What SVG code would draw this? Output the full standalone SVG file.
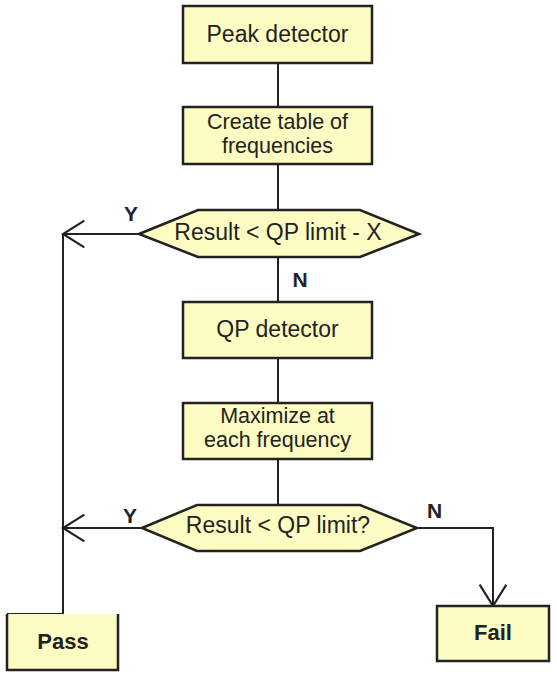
<svg xmlns="http://www.w3.org/2000/svg" width="557" height="674" viewBox="0 0 557 674">
<defs>
<style>
.box{fill:#fdfcc2;stroke:#222;stroke-width:2.5}
.fill{fill:#fdfcc2;stroke:none}
.edge{fill:none;stroke:#222;stroke-width:2.5}
.line{fill:none;stroke:#222;stroke-width:2}
.t{font-family:"Liberation Sans",Arial,sans-serif;font-size:23px;fill:#222;text-anchor:middle}
.t2{font-family:"Liberation Sans",Arial,sans-serif;font-size:21.5px;fill:#222;text-anchor:middle}
.b{font-family:"Liberation Sans",Arial,sans-serif;font-size:22px;font-weight:bold;fill:#222;text-anchor:middle}
.lab{font-family:"Liberation Sans",Arial,sans-serif;font-size:21px;font-weight:bold;fill:#222;text-anchor:middle}
</style>
<marker id="arr" markerUnits="userSpaceOnUse" markerWidth="40" markerHeight="40" refX="0" refY="0" viewBox="-20 -15 25 30" orient="auto" overflow="visible">
<path d="M-16,-10 L0,0 L-16,10" fill="none" stroke="#222" stroke-width="1.6"/>
</marker>
</defs>
<rect width="557" height="674" fill="#ffffff"/>
<g id="connectors">
<path class="line" d="M278,63 V107"/>
<path class="line" d="M278,164 V210"/>
<path class="line" d="M278,257 V302"/>
<path class="line" d="M278,358 V403"/>
<path class="line" d="M278,459 V505"/>
<path class="line" d="M139,234 H63" marker-end="url(#arr)"/>
<path class="line" d="M142,528 H63" marker-end="url(#arr)"/>
<path class="line" d="M63,234 V614 H7"/>
<path class="line" d="M417,528 H493 V606" marker-end="url(#arr)"/>
<text class="lab" x="131" y="221">Y</text>
<text class="lab" x="300" y="287">N</text>
<text class="lab" x="130" y="523">Y</text>
<text class="lab" x="434.5" y="518">N</text>
</g>
<g id="peak">
<rect class="box" x="183" y="6" width="189" height="57"/>
<text class="t" x="277.5" y="42">Peak detector</text>
</g>
<g id="table">
<rect class="box" x="183" y="107" width="189" height="57"/>
<text class="t2" x="277.5" y="129">Create table of</text>
<text class="t2" x="277.5" y="153">frequencies</text>
</g>
<g id="decision1">
<polygon class="box" points="139,234 198,210 360,210 419,234 360,257 198,257"/>
<text class="t" x="278" y="240">Result &lt; QP limit - X</text>
</g>
<g id="qp">
<rect class="box" x="183" y="302" width="189" height="56"/>
<text class="t" x="277.5" y="337">QP detector</text>
</g>
<g id="maximize">
<rect class="box" x="183" y="403" width="189" height="56"/>
<text class="t2" x="277.5" y="423">Maximize at</text>
<text class="t2" x="277.5" y="447">each frequency</text>
</g>
<g id="decision2">
<polygon class="box" points="142,528 197,505 360,505 417,528 360,551 197,551"/>
<text class="t" x="278" y="533">Result &lt; QP limit?</text>
</g>
<g id="pass">
<rect class="fill" x="7" y="614" width="111" height="56"/>
<path class="edge" d="M7,614 V670 H118 V614"/>
<text class="b" x="63" y="649">Pass</text>
</g>
<g id="fail">
<rect class="box" x="437" y="606" width="112" height="55"/>
<text class="b" x="493" y="640">Fail</text>
</g>
</svg>
